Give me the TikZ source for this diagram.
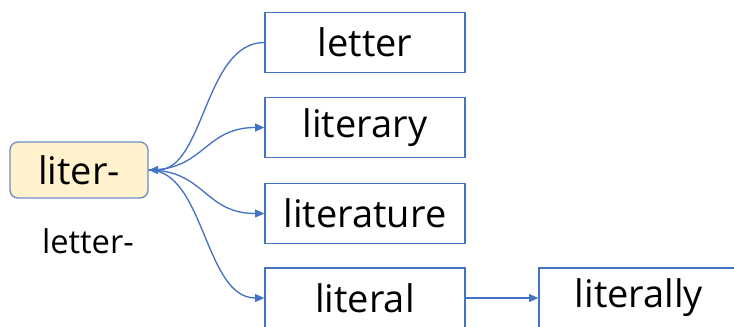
\documentclass[tikz,border=0pt]{standalone}
\usepackage{fontspec}
\setmainfont{Open Sans}
\usetikzlibrary{arrows.meta}
\definecolor{boxblue}{HTML}{4472C4}
\definecolor{rootfill}{HTML}{FFF2CC}
\definecolor{rootline}{HTML}{6C8EBF}

\begin{document}
\begin{tikzpicture}[x=0.75pt,y=-0.75pt]
        %
        % `word' is used for the derived words (white boxes).
        % `root' is used for the stem box.
        % `link' is used for the curved and straight connectors.
        \tikzstyle{word} = [draw=boxblue,fill=white,line width=1pt,minimum width=150pt,minimum height=45pt,inner sep=0pt,font=\fontsize{28.5}{32}\selectfont]
        \tikzstyle{root} = [draw=rootline,fill=rootfill,line width=1pt,rounded corners=6pt,minimum width=103.5pt,minimum height=42pt,inner sep=0pt,font=\fontsize{28.5}{32}\selectfont]
        \tikzstyle{link} = [boxblue,line width=1pt,-{Triangle[length=7pt,width=6pt]}]
        \useasboundingbox (0,0) rectangle (734,326);
        %
        % Stem
        \node[root] (liter) at (79,170) {liter-};
        \node[font=\fontsize{24.5}{28}\selectfont] (meaning) at (88,241) {letter-};
        %
        % Column 1
        \node[word] (letter) at (365,42.5) {letter};
        \node[word] (literary) at (365,127.5) {literary};
        \node[word] (literature) at (365,213.5) {literature};
        \node[word] (literal) at (365,298) {literal};
        %
        % Column 2
        \node[word] (literally) at (639,298) {literally};
        %
        % Connectors
        \draw[link] (letter.west) .. controls +(-60,0) and +(56,0) .. (liter.east);
        \draw[link] (liter.east) .. controls +(56,0) and +(-60,0) .. (literary.west);
        \draw[link] (liter.east) .. controls +(56,0) and +(-60,0) .. (literature.west);
        \draw[link] (liter.east) .. controls +(56,0) and +(-60,0) .. (literal.west);
        \draw[link] (literal) -- (literally);
    \end{tikzpicture}
\end{document}
